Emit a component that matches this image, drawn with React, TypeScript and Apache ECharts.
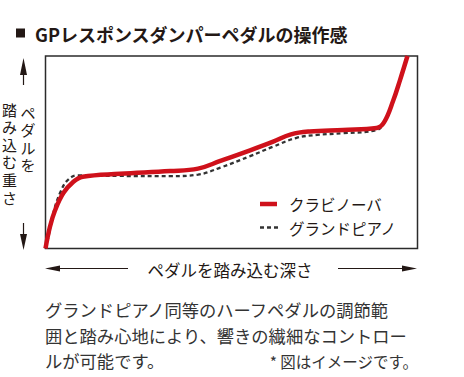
import React, { useEffect, useRef } from "react";
import * as echarts from "echarts";

const titleText = "GPレスポンスダンパーペダルの操作感";
const yLabelRight = ["ペ", "ダ", "ル", "を"];
const yLabelLeft = ["踏", "み", "込", "む", "重", "さ"];
const xLabel = "ペダルを踏み込む深さ";
const bodyLines = [
  "グランドピアノ同等のハーフペダルの調節範",
  "囲と踏み心地により、響きの繊細なコントロー",
  "ルが可能です。",
];
const noteText = "* 図はイメージです。";

const seriesNames = ["クラビノーバ", "グランドピアノ"];

// depth (%) , weight (%)
const clavinovaX = [0, 1.2, 2.6, 4.8, 7.5, 10, 20, 33.5, 41, 47, 55, 61.2, 66, 71, 80, 89, 91, 93.5, 95.3, 97.3];
const clavinovaY = [0, 11.3, 20, 28.8, 34.7, 37.3, 38.8, 40.2, 41.5, 45.5, 51, 55.5, 59.3, 60.8, 61.6, 62.6, 65.5, 77, 87.5, 100];

const grandX = [0, 0.9, 2.1, 3.9, 6, 8.6, 20, 33.5, 41, 47, 55, 61.2, 67.5, 73, 80, 89, 91, 93.5, 95.3, 97.3];
const grandY = [0, 7, 18.4, 28.8, 35.6, 38, 37.7, 37.6, 38.4, 42, 48, 52.9, 57.5, 59, 59.9, 61.5, 65.5, 77, 87.5, 100];

const zip = (xs: number[], ys: number[]) => xs.map((x, i) => [x, ys[i]]);

const FONT = '"Noto Sans CJK JP", "Noto Sans", sans-serif';
const VFONT = '"Liberation Sans", "Noto Sans CJK JP", sans-serif';
const TXT = "#231815";
const RED = "#cf111b";
const GREY = "#333";

export default function App() {
  const ref = useRef<HTMLDivElement>(null);
  useEffect(() => {
    if (!ref.current) return;
    const chart = echarts.init(ref.current, undefined, { renderer: "svg" });
    const gl = 45.5, gt = 56, gr = 417.5, gb = 248.5;
    const arrowColor = "#231815";
    const colChar = (ch: string, x: number, y: number) => ({
      type: "text",
      x,
      y,
      style: {
        text: ch,
        font: `15px ${VFONT}`,
        fill: TXT,
        align: "center",
        verticalAlign: "middle",
      },
    });
    chart.setOption({
      animation: false,
      backgroundColor: "#fff",
      textStyle: { fontFamily: FONT },
      grid: {
        left: gl,
        top: gt,
        right: 464 - gr,
        bottom: 377 - gb,
        show: true,
        borderColor: "#2b2b2b",
        borderWidth: 1.5,
        backgroundColor: "transparent",
      },
      xAxis: {
        type: "value",
        min: 0,
        max: 100,
        axisLine: { show: false },
        axisTick: { show: false },
        axisLabel: { show: false },
        splitLine: { show: false },
      },
      yAxis: {
        type: "value",
        min: 0,
        max: 100,
        axisLine: { show: false },
        axisTick: { show: false },
        axisLabel: { show: false },
        splitLine: { show: false },
      },
      series: [
        {
          name: seriesNames[1],
          type: "line",
          data: zip(grandX, grandY),
          symbol: "none",
          smooth: 0.4,
          lineStyle: { color: GREY, width: 2.3, type: [4, 3] },
          itemStyle: { color: GREY },
          z: 2,
        },
        {
          name: seriesNames[0],
          type: "line",
          data: zip(clavinovaX, clavinovaY),
          symbol: "none",
          smooth: 0.4,
          lineStyle: { color: RED, width: 4.5 },
          itemStyle: { color: RED },
          z: 3,
        },
      ],
      graphic: [
        // title
        { type: "rect", shape: { x: 16, y: 28.5, width: 9, height: 9 }, style: { fill: "#231815" } },
        {
          type: "text",
          x: 35,
          y: 34,
          style: {
            text: titleText,
            font: `bold 18px ${FONT}`,
            fill: TXT,
            verticalAlign: "middle",
          },
        },
        // y label columns (vertical writing)
        ...yLabelRight.map((ch, i) => colChar(ch, 28, 113 + i * 17.6)),
        ...yLabelLeft.map((ch, i) => colChar(ch, 9.5, 110 + i * 17.6)),
        // up arrow
        { type: "line", shape: { x1: 23.5, y1: 72, x2: 23.5, y2: 85 }, style: { stroke: arrowColor, lineWidth: 1.2 } },
        { type: "polygon", shape: { points: [[23.5, 58], [20, 75], [27, 75]] }, style: { fill: arrowColor } },
        // down arrow
        { type: "line", shape: { x1: 23.5, y1: 223, x2: 23.5, y2: 237 }, style: { stroke: arrowColor, lineWidth: 1.2 } },
        { type: "polygon", shape: { points: [[23.5, 250], [20, 234], [27, 234]] }, style: { fill: arrowColor } },
        // legend
        { type: "line", shape: { x1: 260, y1: 204, x2: 277, y2: 204 }, style: { stroke: RED, lineWidth: 4.5 } },
        {
          type: "text",
          x: 289,
          y: 204,
          style: { text: seriesNames[0], font: `15.5px ${FONT}`, fill: TXT, verticalAlign: "middle" },
        },
        { type: "line", shape: { x1: 260, y1: 227.5, x2: 278, y2: 227.5 }, style: { stroke: GREY, lineWidth: 2.3, lineDash: [4, 3] } },
        {
          type: "text",
          x: 289,
          y: 227.5,
          style: { text: seriesNames[1], font: `15.5px ${FONT}`, fill: TXT, verticalAlign: "middle" },
        },
        // x label
        {
          type: "text",
          x: 230,
          y: 270,
          style: {
            text: xLabel,
            font: `16.5px ${FONT}`,
            fill: TXT,
            align: "center",
            verticalAlign: "middle",
          },
        },
        { type: "line", shape: { x1: 57, y1: 268.5, x2: 128, y2: 268.5 }, style: { stroke: arrowColor, lineWidth: 1.2 } },
        { type: "polygon", shape: { points: [[45, 268.5], [60, 265.5], [60, 271.5]] }, style: { fill: arrowColor } },
        { type: "line", shape: { x1: 338, y1: 268.5, x2: 405, y2: 268.5 }, style: { stroke: arrowColor, lineWidth: 1.2 } },
        { type: "polygon", shape: { points: [[417, 268.5], [402, 265.5], [402, 271.5]] }, style: { fill: arrowColor } },
        // body text
        ...bodyLines.map((line, i) => ({
          type: "text",
          x: 45,
          y: 309.5 + i * 25.5,
          style: {
            text: line,
            font: `17.3px ${FONT}`,
            fill: "#333",
            verticalAlign: "middle",
          },
        })),
        {
          type: "text",
          x: 418,
          y: 360.5,
          style: {
            text: noteText,
            font: `15.5px ${FONT}`,
            fill: "#333",
            align: "right",
            verticalAlign: "middle",
          },
        },
      ],
    });
    return () => chart.dispose();
  }, []);
  return (
    <div
      ref={ref}
      style={{ position: "fixed", left: 0, top: 0, width: 464, height: 377, background: "#fff" }}
    />
  );
}
